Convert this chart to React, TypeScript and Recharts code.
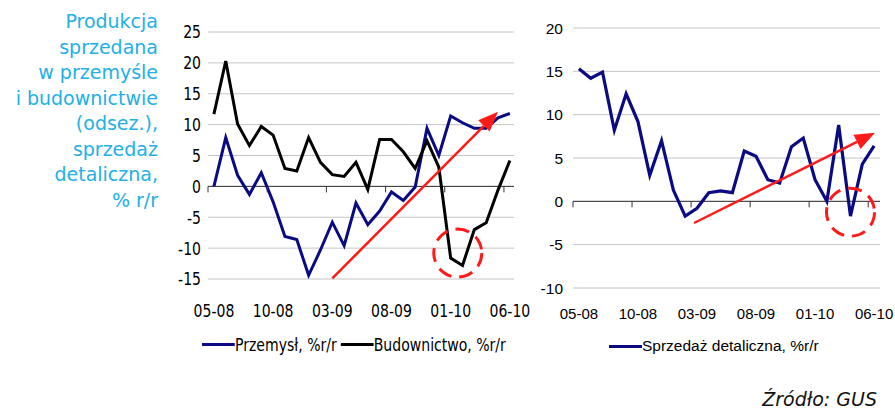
import React from "react";
import {
  LineChart,
  Line,
  CartesianGrid,
  XAxis,
  YAxis,
  Legend,
  ReferenceLine,
  ReferenceDot,
} from "recharts";

// miesiące 05-08 .. 06-10
const months = [
  "05-08", "06-08", "07-08", "08-08", "09-08", "10-08", "11-08", "12-08",
  "01-09", "02-09", "03-09", "04-09", "05-09", "06-09", "07-09", "08-09",
  "09-09", "10-09", "11-09", "12-09", "01-10", "02-10", "03-10", "04-10",
  "05-10", "06-10",
];
const labelIdx = [0, 5, 10, 15, 20, 25];
const tickBounds = [-0.5, 4.5, 9.5, 14.5, 19.5, 24.5];

const przemysl = [
  0, 7.9, 1.8, -1.3, 2.2, -2.5, -8.1, -8.6, -14.4, -10.3, -5.8, -9.6, -2.7,
  -6.2, -4.0, -0.9, -2.3, -0.1, 9.4, 5.0, 11.4, 10.3, 9.4, 9.4, 11.1, 11.8,
];
const budownictwo = [
  11.7, 20.3, 10.1, 6.6, 9.7, 8.3, 2.9, 2.5, 7.9, 3.9, 1.9, 1.6, 3.9, -0.5,
  7.6, 7.6, 5.6, 2.9, 7.4, 3.1, -11.6, -12.8, -7.0, -5.9, -0.6, 4.2,
];
const sprzedaz = [
  15.3, 14.2, 14.9, 8.2, 12.4, 9.2, 3.0, 7.0, 1.3, -1.7, -0.8, 1.0, 1.2, 1.0,
  5.8, 5.2, 2.5, 2.1, 6.3, 7.3, 2.5, 0.0, 8.8, -1.7, 4.3, 6.4,
];

const leftTicks = [-15, -10, -5, 0, 5, 10, 15, 20, 25];
const rightTicks = [-10, -5, 0, 5, 10, 15, 20];

const leftNames = ["Przemysł, %r/r", "Budownictwo, %r/r"];
const rightNames = ["Sprzedaż detaliczna, %r/r"];

// adnotacje (strzałki trendu i kółka)
const leftArrow = [{ x: 10, y: -14.9 }, { x: 24, y: 12.1 }];
const rightArrow = [{ x: 9.75, y: -2.5 }, { x: 25.07, y: 7.9 }];
const leftCircle = { x: 20.6, y: -10.8 };
const rightCircle = { x: 23.0, y: -1.25 };

const leftData = months.map((m, i) => ({
  i,
  month: m,
  przemysl: przemysl[i],
  budownictwo: budownictwo[i],
}));
const rightData = months.map((m, i) => ({ i, month: m, sprzedaz: sprzedaz[i] }));

const NAVY = "#0a0a84";
const RED = "#ff1a1a";
const CYAN = "#22b0e6";
const SQUEEZE = 0.78; // lewy wykres ma wąską czcionkę

const Arrow = (p: any) => {
  const { x1, y1, x2, y2 } = p;
  const dx = x2 - x1;
  const dy = y2 - y1;
  const len = Math.sqrt(dx * dx + dy * dy);
  const ux = dx / len;
  const uy = dy / len;
  const hl = 20;
  const hw = 8;
  const bx = x2 - ux * hl;
  const by = y2 - uy * hl;
  return (
    <g>
      <line x1={x1} y1={y1} x2={bx} y2={by} stroke={RED} strokeWidth={2.5} />
      <polygon
        points={`${x2},${y2} ${bx - uy * hw},${by + ux * hw} ${bx + uy * hw},${by - ux * hw}`}
        fill={RED}
      />
    </g>
  );
};

const TickMark = (p: any) => (
  <line x1={p.cx} y1={p.cy} x2={p.cx} y2={p.cy + 6} stroke="#333" strokeWidth={1} />
);

const narrowFont = "'DejaVu Sans', sans-serif";

const NarrowXTick = (p: any) => (
  <g transform={`translate(${p.x},${p.y})`}>
    <text
      transform={`scale(${SQUEEZE},1)`}
      textAnchor="middle"
      dy="0.71em"
      fill="#000"
      fontFamily={narrowFont}
      fontSize={18}
    >
      {months[p.payload.value]}
    </text>
  </g>
);

const NarrowYTick = (p: any) => (
  <g transform={`translate(${p.x},${p.y})`}>
    <text
      transform={`scale(${SQUEEZE},1)`}
      textAnchor="end"
      dy="0.355em"
      fill="#000"
      fontFamily={narrowFont}
      fontSize={18}
    >
      {p.payload.value}
    </text>
  </g>
);

const makeLegend = (style: any, order: string[], squeeze: number) => (props: any) => {
  const payload = [...(props.payload || [])].sort(
    (a: any, b: any) => order.indexOf(a.value) - order.indexOf(b.value)
  );
  return (
    <div
      style={{
        display: "flex",
        alignItems: "center",
        color: "#000",
        whiteSpace: "nowrap",
        transform: `scaleX(${squeeze})`,
        transformOrigin: "left center",
        ...style,
      }}
    >
      {payload.map((p: any) => (
        <span key={p.value} style={{ display: "flex", alignItems: "center", marginRight: 5 }}>
          <span
            style={{ display: "inline-block", width: 33 / squeeze, height: 3, background: p.color }}
          />
          <span>{p.value}</span>
        </span>
      ))}
    </div>
  );
};

const leftStyle = { fontFamily: narrowFont, fontSize: 18 };
const rightStyle = { fontFamily: "'Liberation Sans', sans-serif", fontSize: 15.5 };

export default function App() {
  return (
    <div
      style={{
        position: "absolute",
        left: 0,
        top: 0,
        width: 895,
        height: 411,
        background: "#fff",
        overflow: "hidden",
      }}
    >
      <div
        style={{
          position: "absolute",
          left: 0,
          top: 9,
          width: 158,
          textAlign: "right",
          color: CYAN,
          fontFamily: "'DejaVu Sans', sans-serif",
          fontSize: 19,
          lineHeight: "25.5px",
          whiteSpace: "nowrap",
        }}
      >
        Produkcja
        <br />
        sprzedana
        <br />
        w przemyśle
        <br />
        i budownictwie
        <br />
        (odsez.),
        <br />
        sprzedaż
        <br />
        detaliczna,
        <br />% r/r
      </div>

      <div style={{ position: "absolute", left: 160, top: 0 }}>
        <LineChart
          width={372}
          height={370}
          data={leftData}
          margin={{ top: 32, right: 18, bottom: 61, left: 0 }}
        >
          <CartesianGrid vertical={false} stroke="#c4c4c4" />
          <XAxis
            type="number"
            dataKey="i"
            domain={[-0.5, 25.35]}
            ticks={labelIdx}
            axisLine={false}
            tickLine={false}
            height={30}
            tickMargin={19}
            tick={NarrowXTick}
          />
          <YAxis
            width={48}
            domain={[-15, 25]}
            ticks={leftTicks}
            axisLine={false}
            tickLine={false}
            tickMargin={1}
            tick={NarrowYTick}
          />
          <ReferenceLine y={0} stroke="#333" strokeWidth={1} />
          {tickBounds.map((b) => (
            <ReferenceDot key={b} x={b} y={0} r={1} shape={TickMark} ifOverflow="visible" />
          ))}
          <Line
            dataKey="przemysl"
            name={leftNames[0]}
            stroke={NAVY}
            strokeWidth={3}
            dot={false}
            isAnimationActive={false}
          />
          <Line
            dataKey="budownictwo"
            name={leftNames[1]}
            stroke="#000"
            strokeWidth={3}
            dot={false}
            isAnimationActive={false}
          />
          <ReferenceLine segment={leftArrow} shape={Arrow} ifOverflow="visible" />
          <ReferenceDot
            x={leftCircle.x}
            y={leftCircle.y}
            r={24}
            fill="none"
            stroke={RED}
            strokeWidth={3}
            strokeDasharray="14 8"
            ifOverflow="visible"
          />
          <Legend
            verticalAlign="middle"
            align="center"
            layout="horizontal"
            content={makeLegend(leftStyle, leftNames, SQUEEZE)}
            wrapperStyle={{ top: 334, left: 42, width: 320 }}
          />
        </LineChart>
      </div>

      <div style={{ position: "absolute", left: 520, top: 0 }}>
        <LineChart
          width={375}
          height={370}
          data={rightData}
          margin={{ top: 28, right: 15, bottom: 52, left: 0 }}
        >
          <CartesianGrid vertical={false} stroke="#c4c4c4" />
          <XAxis
            type="number"
            dataKey="i"
            domain={[-0.5, 25.5]}
            ticks={labelIdx}
            tickFormatter={(v: number) => months[v]}
            axisLine={false}
            tickLine={false}
            height={30}
            tickMargin={14}
            tick={{ fill: "#000", fontSize: 15, fontFamily: "'Liberation Sans', sans-serif" }}
          />
          <YAxis
            width={53}
            domain={[-10, 20]}
            ticks={rightTicks}
            axisLine={false}
            tickLine={false}
            tickMargin={4}
            tick={{ fill: "#000", fontSize: 15.5, fontFamily: "'Liberation Sans', sans-serif" }}
          />
          <ReferenceLine y={0} stroke="#333" strokeWidth={1} />
          {tickBounds.map((b) => (
            <ReferenceDot key={b} x={b} y={0} r={1} shape={TickMark} ifOverflow="visible" />
          ))}
          <Line
            dataKey="sprzedaz"
            name={rightNames[0]}
            stroke={NAVY}
            strokeWidth={3.2}
            dot={false}
            isAnimationActive={false}
          />
          <ReferenceLine segment={rightArrow} shape={Arrow} ifOverflow="visible" />
          <ReferenceDot
            x={rightCircle.x}
            y={rightCircle.y}
            r={24}
            fill="none"
            stroke={RED}
            strokeWidth={3}
            strokeDasharray="14 8"
            ifOverflow="visible"
          />
          <Legend
            verticalAlign="middle"
            align="center"
            layout="horizontal"
            content={makeLegend(rightStyle, rightNames, 1)}
            wrapperStyle={{ top: 337, left: 89, width: 280 }}
          />
        </LineChart>
      </div>

      <div
        style={{
          position: "absolute",
          right: 18,
          top: 388,
          fontFamily: "'DejaVu Sans', sans-serif",
          fontStyle: "italic",
          fontSize: 19,
          color: "#111",
          whiteSpace: "nowrap",
        }}
      >
        Źródło: GUS
      </div>
    </div>
  );
}
